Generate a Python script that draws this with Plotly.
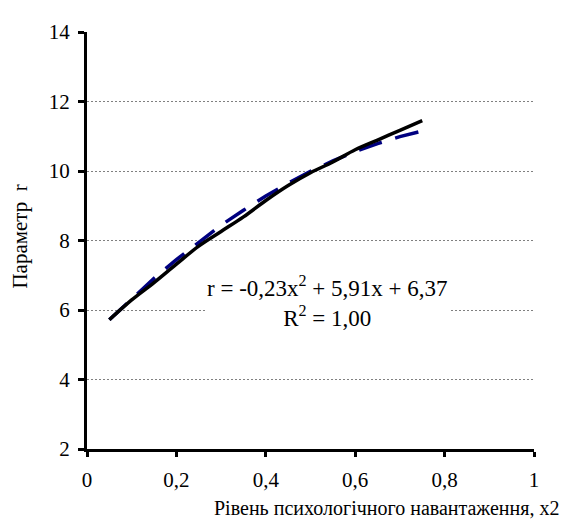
import plotly.graph_objects as go

# Data
x_vals = [0.05, 0.10, 0.15, 0.20, 0.25, 0.30, 0.35, 0.40, 0.45, 0.50, 0.55, 0.60, 0.65, 0.70, 0.75]
r_vals = [5.72, 6.29, 6.79, 7.32, 7.84, 8.26, 8.68, 9.15, 9.58, 9.95, 10.26, 10.61, 10.89, 11.17, 11.45]
trend_vals = [5.72, 6.33, 6.91, 7.45, 7.96, 8.44, 8.87, 9.28, 9.65, 9.99, 10.29, 10.56, 10.79, 10.99, 11.15]

x_ticks = [0, 0.2, 0.4, 0.6, 0.8, 1]
x_tick_labels = ["0", "0,2", "0,4", "0,6", "0,8", "1"]
y_ticks = [2, 4, 6, 8, 10, 12, 14]
y_tick_labels = ["2", "4", "6", "8", "10", "12", "14"]

font_family = "'Liberation Serif', 'Times New Roman', serif"

fig = go.Figure()
fig.add_trace(go.Scatter(x=x_vals, y=trend_vals, mode="lines",
                         line=dict(color="#000080", width=3.5, dash="24px,14px"),
                         showlegend=False))
fig.add_trace(go.Scatter(x=x_vals, y=r_vals, mode="lines",
                         line=dict(color="black", width=3.5, shape="spline"),
                         showlegend=False))

fig.update_layout(
    width=561, height=511,
    margin=dict(l=79, r=35, t=15, b=70),
    paper_bgcolor="white", plot_bgcolor="white",
    font=dict(family=font_family, size=21, color="black"),
    xaxis=dict(range=[0, 1], tickvals=x_ticks, ticktext=x_tick_labels,
               showgrid=False, zeroline=False, showline=True, linecolor="black",
               linewidth=3, ticks="outside", ticklen=5, tickwidth=3, tickcolor="black",
               ticklabelstandoff=5, tickfont=dict(family=font_family, size=21)),
    yaxis=dict(range=[2, 14], tickvals=y_ticks, ticktext=y_tick_labels,
               showgrid=True, gridcolor="#808080", gridwidth=1, griddash="2px,2px",
               zeroline=False, showline=True, linecolor="black",
               linewidth=3, ticks="outside", ticklen=6, tickwidth=3, tickcolor="black",
               ticklabelstandoff=4, tickfont=dict(family=font_family, size=21)),
    annotations=[
        dict(text="r = -0,23x<sup>2</sup> + 5,91x + 6,37<br>R<sup>2</sup> = 1,00",
             xref="paper", yref="paper", x=(327 - 87) / 447, y=(449 - 298) / 426,
             xanchor="center", yanchor="middle", showarrow=False,
             bgcolor="white", font=dict(family=font_family, size=23), align="center"),
        dict(text="Рівень психологічного навантаження, x2",
             xref="paper", yref="paper", x=(561 - 87) / 447, y=(449 - 509) / 426,
             xanchor="right", yanchor="middle", showarrow=False,
             font=dict(family=font_family, size=20)),
        dict(text="Параметр  r", textangle=-90,
             xref="paper", yref="paper", x=(20 - 87) / 447, y=(449 - 232) / 426,
             xanchor="center", yanchor="middle", showarrow=False,
             font=dict(family=font_family, size=21)),
    ],
)

fig.write_html("out.html")
